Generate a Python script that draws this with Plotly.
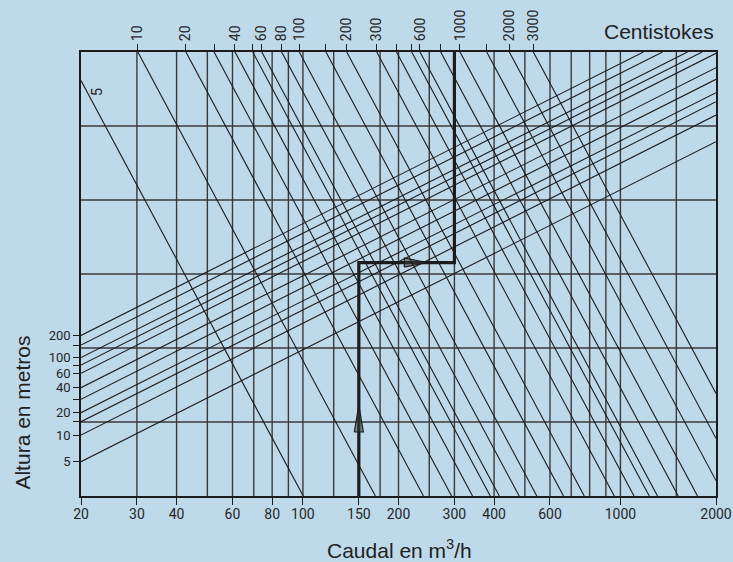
import numpy as np
import plotly.graph_objects as go

# ---------------- data ----------------
flow_ticks = [20, 30, 40, 60, 80, 100, 150, 200, 300, 400, 600, 1000, 2000]
flow_grid = [30, 40, 50, 60, 70, 80, 90, 100, 125, 175, 200, 250, 300,
             400, 500, 600, 700, 800, 900, 1000, 1500]
level_grid = [1, 2, 3, 4, 5]

# head lines (ascending): label and level at left border (chart units 0..6)
head_labels = ['5', '10', '', '20', '', '40', '60', '', '100', '', '200']
head_left = [0.464, 0.824, 1.004, 1.126, 1.307, 1.464, 1.658, 1.770, 1.870, 2.040, 2.170]
head_slope = 2.162          # level units per decade of flow

# viscosity lines (descending): label and flow where each meets the top border
visc_labels = ['5', '10', '20', '', '40', '', '60', '80', '100', '', '200', '300',
               '', '', '600', '', '1000', '', '2000', '3000']
visc_top = [17.9, 30.2, 42.8, 52.5, 61.1, 69.5, 74.2, 85.7, 97.4, 118.2, 137.4, 170.8,
            197.1, 220.1, 233.7, 271.6, 312.4, 379.2, 446.8, 531.7]
visc_slope = 8.02           # level units per decade of flow

# example path
path_flow = [150, 150, 300, 300]
path_level = [0, 3.155, 3.155, 6]

# arrows on the path (tip flow, tip level, direction)
arrow_tip_flow = [150, 246]
arrow_tip_level = [1.23, 3.155]
arrow_dir = ['up', 'right']

X0, X1 = 20, 2000
Y0, Y1 = 0, 6
LX0, LX1 = np.log10(X0), np.log10(X1)

BG = '#bdd9ea'
DARK = '#1c1c1c'
GRID = '#3a3a3a'
NUMFONT = dict(family='Roboto', size=14, color='#262626')
LEFTFONT = dict(family='Roboto', size=13, color='#262626')
TITLEFONT = dict(family='Liberation Sans', size=21, color='#222222')

# ---------------- geometry helpers ----------------
def asc_segment(v0):
    xs, ys = [X0], [v0]
    lt = LX0 + (Y1 - v0) / head_slope
    if lt < LX1:
        xs.append(10 ** lt); ys.append(Y1)
    else:
        xs.append(X1); ys.append(v0 + head_slope * (LX1 - LX0))
    return xs, ys


def desc_segment(xt):
    lxt = np.log10(xt)
    if xt >= X0:
        xs, ys = [xt], [Y1]
    else:
        xs, ys = [X0], [Y1 - visc_slope * (LX0 - lxt)]
    lb = lxt + Y1 / visc_slope
    if lb <= LX1:
        xs.append(10 ** lb); ys.append(Y0)
    else:
        xs.append(X1); ys.append(Y1 - visc_slope * (LX1 - lxt))
    return xs, ys


def joined(segs):
    X, Y = [], []
    for xs, ys in segs:
        X += list(xs) + [None]
        Y += list(ys) + [None]
    return X, Y


fig = go.Figure()

# vertical grid
gx, gy = joined([([f, f], [Y0, Y1]) for f in flow_grid])
fig.add_trace(go.Scatter(x=gx, y=gy, mode='lines', line=dict(color=GRID, width=1.4),
                         hoverinfo='skip'))
# horizontal grid
hx, hy = joined([([X0, X1], [v, v]) for v in level_grid])
fig.add_trace(go.Scatter(x=hx, y=hy, mode='lines', line=dict(color=GRID, width=1.6),
                         hoverinfo='skip'))

# ascending head lines
ax_, ay_ = joined([asc_segment(v) for v in head_left])
fig.add_trace(go.Scatter(x=ax_, y=ay_, mode='lines', line=dict(color=DARK, width=1.1),
                         hoverinfo='skip'))

# descending viscosity lines (drawn on top axis, same scale)
dx_, dy_ = joined([desc_segment(f) for f in visc_top])
fig.add_trace(go.Scatter(x=dx_, y=dy_, mode='lines', line=dict(color=DARK, width=1.1),
                         xaxis='x2', hoverinfo='skip'))

# example path
fig.add_trace(go.Scatter(x=path_flow, y=path_level, mode='lines',
                         line=dict(color=DARK, width=3.2), hoverinfo='skip'))

# arrows
ALEN_V, AHALF_LOG = 0.365, 0.0142
ALEN_LOG, AHALF_V = 0.0715, 0.061
for f, v, d in zip(arrow_tip_flow, arrow_tip_level, arrow_dir):
    if d == 'up':
        k = 10 ** AHALF_LOG
        xs = [f / k, f, f * k, f / k]
        ys = [v - ALEN_V, v, v - ALEN_V, v - ALEN_V]
    else:
        b = f / 10 ** ALEN_LOG
        xs = [b, f, b, b]
        ys = [v - AHALF_V, v, v + AHALF_V, v - AHALF_V]
    fig.add_trace(go.Scatter(x=xs, y=ys, mode='lines', fill='toself',
                             fillcolor='rgba(60,60,60,0.55)',
                             line=dict(color=DARK, width=1.2), hoverinfo='skip'))

top_vals = [f for f in visc_top if f >= X0]
top_text = [t for f, t in zip(visc_top, visc_labels) if f >= X0]

fig.update_layout(
    width=733, height=562,
    margin=dict(l=81, r=17, t=52, b=66, autoexpand=False),
    paper_bgcolor=BG, plot_bgcolor=BG,
    showlegend=False,
    xaxis=dict(type='log', range=[LX0, LX1], tickmode='array', tickvals=flow_ticks,
               ticktext=[str(v) for v in flow_ticks], tickangle=0, automargin=False,
               ticks='outside', ticklen=7, tickwidth=1.2, tickcolor=DARK,
               ticklabelstandoff=-3,
               showgrid=False, zeroline=False, showline=True, linecolor=DARK,
               linewidth=1.6, mirror=True, tickfont=NUMFONT),
    xaxis2=dict(type='log', range=[LX0, LX1], overlaying='x', side='top',
                tickmode='array', tickvals=top_vals, ticktext=top_text, tickangle=-90,
                automargin=False,
                ticks='outside', ticklen=7, tickwidth=1.2, tickcolor=DARK,
                showgrid=False, zeroline=False, showline=False, tickfont=NUMFONT),
    yaxis=dict(range=[Y0, Y1], tickmode='array', tickvals=head_left, ticktext=head_labels,
               automargin=False,
               ticks='outside', ticklen=6, tickwidth=1.2, tickcolor=DARK,
               showgrid=False, zeroline=False, showline=True, linecolor=DARK,
               linewidth=1.6, mirror=True, tickfont=LEFTFONT),
    annotations=[
        dict(text='Centistokes', xref='paper', yref='paper', x=1.0, y=1.047,
             xanchor='right', yanchor='middle', showarrow=False, font=TITLEFONT),
        dict(text='Caudal en m<sup>3</sup>/h', xref='paper', yref='paper', x=0.502,
             y=-0.119, xanchor='center', yanchor='middle', showarrow=False, font=TITLEFONT),
        dict(text='Altura en metros', xref='paper', yref='paper', x=-0.092, y=0.187,
             xanchor='center', yanchor='middle', textangle=-90, showarrow=False,
             font=TITLEFONT),
        dict(text=visc_labels[0], xref='x', yref='y', x=np.log10(22.5), y=5.46,
             textangle=-90, showarrow=False,
             font=dict(family='Roboto', size=15, color='#262626')),
    ],
)

fig.write_html('out.html')
